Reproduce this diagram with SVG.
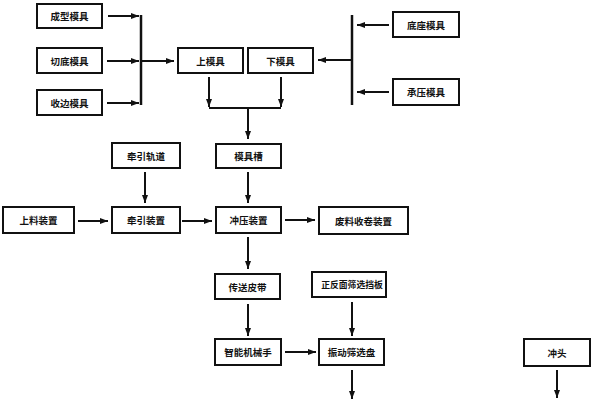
<svg xmlns="http://www.w3.org/2000/svg" width="592" height="400" viewBox="0 0 592 400">
<defs>
<marker id="ah" markerUnits="userSpaceOnUse" markerWidth="8" markerHeight="8" viewBox="0 0 8 8" refX="8" refY="4" orient="auto">
<path d="M0,1 L8,4 L0,7 Z" fill="#111"/>
</marker>
<style>
.box{fill:#fff;stroke:#111;stroke-width:2}
.t{font-family:"Noto Sans CJK SC","Noto Sans CJK JP",sans-serif;font-size:9.5px;font-weight:bold;fill:#111;text-anchor:middle;dominant-baseline:central}
.s{font-size:8.8px}
.c{stroke:#111;stroke-width:2;fill:none}
.a{stroke:#111;stroke-width:2;fill:none;marker-end:url(#ah)}
.bar{stroke:#111;stroke-width:2.5;fill:none}
</style>
</defs>
<rect width="592" height="400" fill="#fff"/>
<g id="n1"><rect class="box" x="37" y="4" width="65" height="24"/><text class="t" x="69.5" y="16">成型模具</text></g>
<g id="n2"><rect class="box" x="37" y="48" width="65" height="25"/><text class="t" x="69.5" y="60.5">切底模具</text></g>
<g id="n3"><rect class="box" x="37" y="90" width="65" height="25"/><text class="t" x="69.5" y="102.5">收边模具</text></g>
<g id="n4"><rect class="box" x="178" y="48" width="65" height="25"/><text class="t" x="210.5" y="60.5">上模具</text></g>
<g id="n5"><rect class="box" x="248" y="48" width="65" height="25"/><text class="t" x="280.5" y="60.5">下模具</text></g>
<g id="n6"><rect class="box" x="393" y="12" width="66" height="25"/><text class="t" x="426" y="24.5">底座模具</text></g>
<g id="n7"><rect class="box" x="393" y="79" width="66" height="26"/><text class="t" x="426" y="92">承压模具</text></g>
<g id="n8"><rect class="box" x="112" y="143" width="68" height="25"/><text class="t" x="146" y="155.5">牵引轨道</text></g>
<g id="n9"><rect class="box" x="216" y="144" width="65" height="24"/><text class="t" x="248.5" y="156">模具槽</text></g>
<g id="n10"><rect class="box" x="3" y="207" width="71" height="26"/><text class="t" x="38.5" y="220">上料装置</text></g>
<g id="n11"><rect class="box" x="112" y="207" width="68" height="26"/><text class="t" x="146" y="220">牵引装置</text></g>
<g id="n12"><rect class="box" x="216" y="207" width="65" height="26"/><text class="t" x="248.5" y="220">冲压装置</text></g>
<g id="n13"><rect class="box" x="319" y="207" width="89" height="27"/><text class="t" x="363.5" y="220.5">废料收卷装置</text></g>
<g id="n14"><rect class="box" x="215" y="274" width="65" height="25"/><text class="t" x="247.5" y="286.5">传送皮带</text></g>
<g id="n15"><rect class="box" x="312" y="272" width="74" height="25"/><text class="t s" x="352" y="284.5">正反面筛选挡板</text></g>
<g id="n16"><rect class="box" x="215" y="339" width="66" height="26"/><text class="t" x="248" y="352">智能机械手</text></g>
<g id="n17"><rect class="box" x="319" y="339" width="65" height="26"/><text class="t" x="351.5" y="352">振动筛选盘</text></g>
<g id="n18"><rect class="box" x="524" y="339" width="66" height="27"/><text class="t" x="557" y="352.5">冲头</text></g>
<g id="connectors">
<line class="a" x1="108" y1="16" x2="139" y2="16"/>
<line class="a" x1="107" y1="61" x2="139" y2="61"/>
<line class="a" x1="107" y1="103" x2="139" y2="103"/>
<line class="bar" x1="141" y1="15" x2="141" y2="105"/>
<line class="a" x1="141" y1="61" x2="174" y2="61"/>
<line class="a" x1="389" y1="25" x2="357" y2="25"/>
<line class="a" x1="389" y1="92" x2="357" y2="92"/>
<line class="bar" x1="352" y1="15" x2="352" y2="105"/>
<line class="a" x1="352" y1="60" x2="318" y2="60"/>
<line class="a" x1="209" y1="77" x2="209" y2="107"/>
<line class="a" x1="281" y1="77" x2="281" y2="107"/>
<polyline class="c" points="209,108 281,108"/>
<line class="a" x1="248" y1="108" x2="248" y2="139"/>
<line class="a" x1="145" y1="172" x2="145" y2="203"/>
<line class="a" x1="248" y1="172" x2="248" y2="203"/>
<line class="a" x1="78" y1="221" x2="108" y2="221"/>
<line class="a" x1="182" y1="221" x2="212" y2="221"/>
<line class="a" x1="285" y1="220" x2="315" y2="220"/>
<line class="a" x1="248" y1="237" x2="248" y2="269"/>
<line class="a" x1="248" y1="304" x2="248" y2="336"/>
<line class="a" x1="352" y1="302" x2="352" y2="336"/>
<line class="a" x1="285" y1="352" x2="316" y2="352"/>
<line class="a" x1="352" y1="370" x2="352" y2="399"/>
<line class="a" x1="557" y1="370" x2="557" y2="398"/>
</g>
</svg>
